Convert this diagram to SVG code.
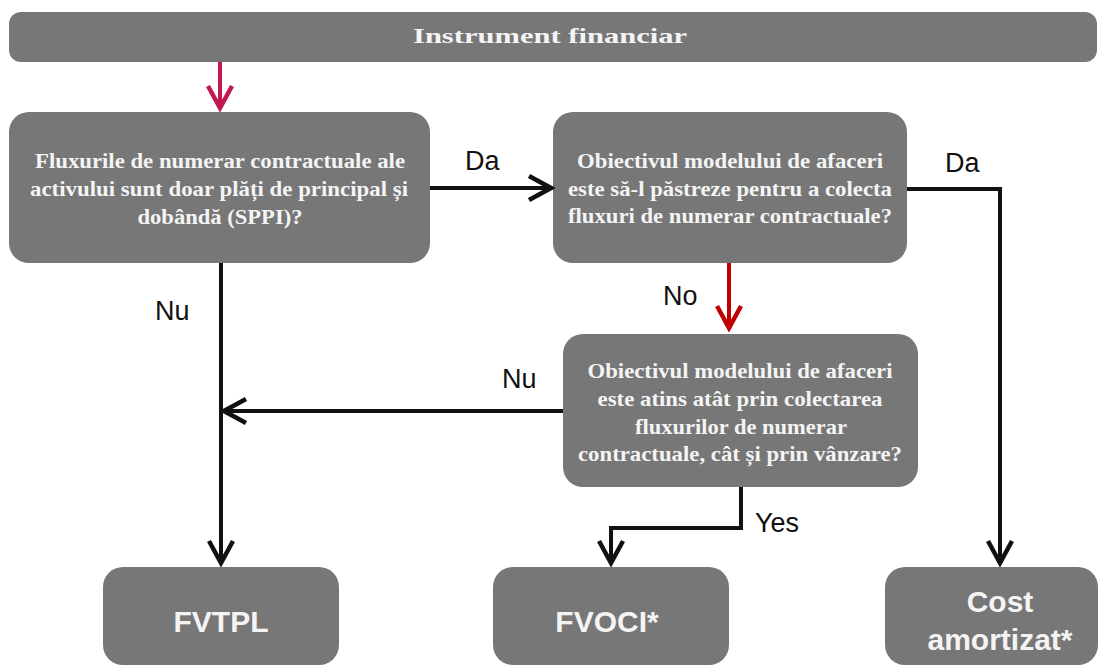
<svg xmlns="http://www.w3.org/2000/svg" width="1108" height="667" viewBox="0 0 1108 667">
<style>
.box{fill:#777777}
.q{font-family:"Liberation Serif","Times New Roman",serif;font-weight:bold;font-size:21px;fill:#f4f4f4;text-anchor:middle}
.h{font-family:"Liberation Serif","Times New Roman",serif;font-weight:bold;font-size:22px;fill:#f4f4f4;text-anchor:middle}
.t{font-family:"Liberation Sans",Arial,sans-serif;font-weight:bold;font-size:30px;fill:#f4f4f4;text-anchor:middle}
.lbl{font-family:"Liberation Sans",Arial,sans-serif;font-size:27px;fill:#111111}
.c{fill:none;stroke:#111111;stroke-width:4}
</style>
<defs>
<marker id="ab" viewBox="-26 -14 30 28" refX="0" refY="0" markerWidth="30" markerHeight="28" markerUnits="userSpaceOnUse" orient="auto">
<path d="M-22,-12 L0,0 L-22,12" fill="none" stroke="#111111" stroke-width="4.5"/>
</marker>
<marker id="ac" viewBox="-26 -14 30 28" refX="0" refY="0" markerWidth="30" markerHeight="28" markerUnits="userSpaceOnUse" orient="auto">
<path d="M-22,-12 L0,0 L-22,12" fill="none" stroke="#c2184f" stroke-width="4.5"/>
</marker>
<marker id="ar" viewBox="-26 -14 30 28" refX="0" refY="0" markerWidth="30" markerHeight="28" markerUnits="userSpaceOnUse" orient="auto">
<path d="M-22,-12 L0,0 L-22,12" fill="none" stroke="#c00000" stroke-width="4.5"/>
</marker>
</defs>
<rect width="1108" height="667" fill="#ffffff"/>

<g id="instrument">
<rect class="box" x="9" y="12" width="1088" height="50" rx="12"/>
<text class="h" x="550" y="43" textLength="274" lengthAdjust="spacingAndGlyphs">Instrument financiar</text>
</g>

<g id="sppi">
<rect class="box" x="9" y="112" width="421" height="151" rx="20"/>
<text class="q" x="220" y="168" textLength="370" lengthAdjust="spacingAndGlyphs">Fluxurile de numerar contractuale ale</text>
<text class="q" x="219" y="196" textLength="378" lengthAdjust="spacingAndGlyphs">activului sunt doar plăți de principal și</text>
<text class="q" x="220" y="224" textLength="165" lengthAdjust="spacingAndGlyphs">dobândă (SPPI)?</text>
</g>

<g id="hold">
<rect class="box" x="553" y="112" width="354" height="151" rx="20"/>
<text class="q" x="730" y="168" textLength="306" lengthAdjust="spacingAndGlyphs">Obiectivul modelului de afaceri</text>
<text class="q" x="730" y="196" textLength="324" lengthAdjust="spacingAndGlyphs">este să-l păstreze pentru a colecta</text>
<text class="q" x="730" y="223" textLength="324" lengthAdjust="spacingAndGlyphs">fluxuri de numerar contractuale?</text>
</g>

<g id="holdsell">
<rect class="box" x="563" y="334" width="355" height="153" rx="20"/>
<text class="q" x="740" y="378" textLength="305" lengthAdjust="spacingAndGlyphs">Obiectivul modelului de afaceri</text>
<text class="q" x="740" y="406" textLength="285" lengthAdjust="spacingAndGlyphs">este atins atât prin colectarea</text>
<text class="q" x="741" y="434" textLength="212" lengthAdjust="spacingAndGlyphs">fluxurilor de numerar</text>
<text class="q" x="740" y="461" textLength="324" lengthAdjust="spacingAndGlyphs">contractuale, cât și prin vânzare?</text>
</g>

<g id="fvtpl">
<rect class="box" x="103" y="567" width="236" height="98" rx="20"/>
<text class="t" x="221" y="632">FVTPL</text>
</g>

<g id="fvoci">
<rect class="box" x="493" y="567" width="236" height="98" rx="20"/>
<text class="t" x="607" y="632">FVOCI*</text>
</g>

<g id="cost">
<rect class="box" x="885" y="567" width="213" height="98" rx="20"/>
<text class="t" x="1000" y="612">Cost</text>
<text class="t" x="1000" y="650">amortizat*</text>
</g>

<g id="connectors">
<path d="M220,62 L220,108" fill="none" stroke="#c2184f" stroke-width="4" marker-end="url(#ac)"/>
<path class="c" d="M430,188 L551,188" marker-end="url(#ab)"/>
<path class="c" d="M907,189 L1000,189 L1000,563" marker-end="url(#ab)"/>
<path d="M729,263 L729,328" fill="none" stroke="#c00000" stroke-width="4" marker-end="url(#ar)"/>
<path class="c" d="M221,263 L221,563" marker-end="url(#ab)"/>
<path class="c" d="M563,411 L224,411" marker-end="url(#ab)"/>
<path class="c" d="M741,487 L741,528 L611,528 L611,563" marker-end="url(#ab)"/>
</g>

<g id="labels">
<text class="lbl" x="465" y="170">Da</text>
<text class="lbl" x="945" y="172">Da</text>
<text class="lbl" x="155" y="320">Nu</text>
<text class="lbl" x="663" y="305">No</text>
<text class="lbl" x="502" y="388">Nu</text>
<text class="lbl" x="755" y="532">Yes</text>
</g>
</svg>
